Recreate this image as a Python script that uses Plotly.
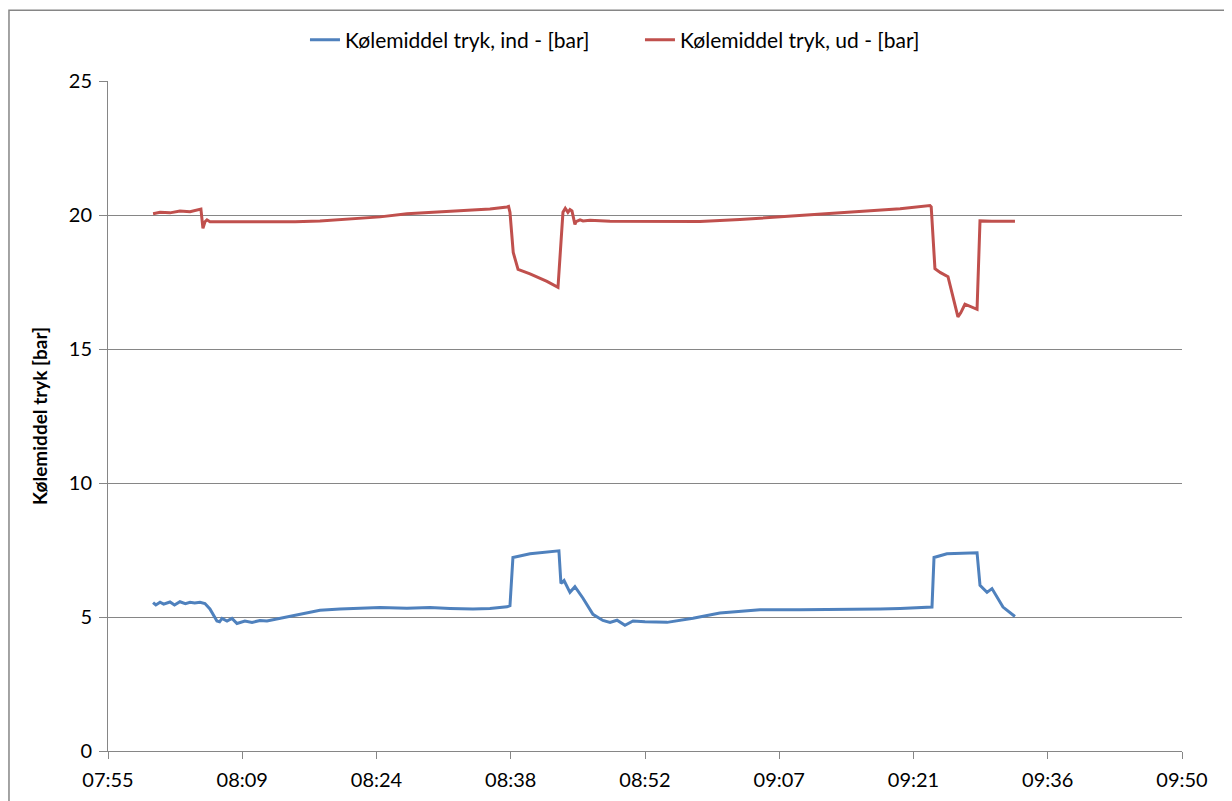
import plotly.graph_objects as go

DAY = "2024-01-01 "

# Tick positions (Excel date axis, major unit 0.01 day) and labels
tick_times = ["07:55:12", "08:09:36", "08:24:00", "08:38:24", "08:52:48",
              "09:07:12", "09:21:36", "09:36:00", "09:50:24"]
tick_labels = ["07:55", "08:09", "08:24", "08:38", "08:52", "09:07", "09:21", "09:36", "09:50"]
y_ticks = [0, 5, 10, 15, 20, 25]

# Kølemiddel tryk, ind - [bar]
ind_times = ["08:00:02", "08:00:20", "08:00:47", "08:01:10", "08:01:51", "08:02:20", "08:02:55",
             "08:03:30", "08:04:00", "08:04:30", "08:05:04", "08:05:36", "08:06:08", "08:06:53",
             "08:07:10", "08:07:26", "08:07:58", "08:08:30", "08:09:02", "08:09:53", "08:10:39",
             "08:11:30", "08:12:15", "08:13:39", "08:15:16", "08:16:33", "08:17:56", "08:20:05",
             "08:21:55", "08:24:23", "08:27:16", "08:29:44", "08:31:53", "08:34:21", "08:36:10",
             "08:38:00", "08:38:19", "08:38:38", "08:40:28", "08:42:17", "08:43:34", "08:43:47",
             "08:44:07", "08:44:45", "08:45:17", "08:46:09", "08:47:13", "08:48:17", "08:49:03",
             "08:49:48", "08:50:39", "08:51:31", "08:52:48", "08:55:10", "08:57:57", "09:00:50",
             "09:02:59", "09:05:08", "09:09:25", "09:14:47", "09:18:01", "09:20:10", "09:23:35",
             "09:23:48", "09:25:11", "09:28:25", "09:28:44", "09:29:29", "09:30:01", "09:31:12",
             "09:32:16", "09:32:29"]
ind_values = [5.54, 5.45, 5.55, 5.48, 5.56, 5.45, 5.57,
              5.50, 5.55, 5.52, 5.55, 5.50, 5.30, 4.85,
              4.82, 4.95, 4.85, 4.95, 4.76, 4.85, 4.80,
              4.87, 4.85, 4.95, 5.05, 5.15, 5.25, 5.30,
              5.33, 5.35, 5.33, 5.35, 5.32, 5.30, 5.32,
              5.38, 5.42, 7.22, 7.36, 7.44, 7.47, 6.25,
              6.36, 5.92, 6.13, 5.70, 5.10, 4.87, 4.80,
              4.88, 4.69, 4.85, 4.82, 4.80, 4.95, 5.15,
              5.22, 5.27, 5.27, 5.28, 5.30, 5.32, 5.37,
              7.22, 7.36, 7.40, 6.18, 5.92, 6.06, 5.37,
              5.05, 5.02]

# Kølemiddel tryk, ud - [bar]
ud_times = ["08:00:02", "08:00:47", "08:01:51", "08:02:55", "08:04:00", "08:05:04", "08:05:10",
            "08:05:23", "08:05:36", "08:05:49", "08:06:08", "08:10:39", "08:15:16", "08:17:56",
            "08:20:05", "08:24:23", "08:27:16", "08:29:44", "08:31:53", "08:34:21", "08:36:10",
            "08:38:00", "08:38:10", "08:38:19", "08:38:40", "08:39:11", "08:40:28", "08:42:17",
            "08:43:28", "08:44:00", "08:44:15", "08:44:32", "08:44:45", "08:44:58", "08:45:17",
            "08:45:24", "08:45:50", "08:46:09", "08:46:54", "08:49:03", "08:52:48", "08:58:42",
            "09:02:59", "09:05:08", "09:09:25", "09:14:47", "09:18:01", "09:20:10", "09:23:22",
            "09:23:30", "09:23:54", "09:24:30", "09:25:18", "09:25:44", "09:26:05", "09:26:22",
            "09:26:40", "09:27:07", "09:28:25", "09:28:44", "09:30:00", "09:32:29"]
ud_values = [20.05, 20.10, 20.08, 20.15, 20.12, 20.20, 20.22,
             19.50, 19.75, 19.82, 19.75, 19.75, 19.75, 19.78,
             19.83, 19.93, 20.05, 20.10, 20.15, 20.20, 20.22,
             20.30, 20.32, 20.10, 18.60, 17.97, 17.80, 17.52,
             17.30, 20.10, 20.25, 20.10, 20.20, 20.15, 19.65,
             19.75, 19.82, 19.78, 19.80, 19.77, 19.76, 19.76,
             19.83, 19.88, 19.98, 20.10, 20.18, 20.23, 20.35,
             20.30, 18.00, 17.85, 17.70, 17.10, 16.60, 16.20,
             16.35, 16.67, 16.48, 19.78, 19.77, 19.77]

GRAY = "#868686"
FONT = "Lato"

fig = go.Figure()
fig.add_trace(go.Scatter(x=[DAY + t for t in ind_times], y=ind_values, mode="lines",
                         name="Kølemiddel tryk, ind - [bar]",
                         line=dict(color="#4F81BD", width=3)))
fig.add_trace(go.Scatter(x=[DAY + t for t in ud_times], y=ud_values, mode="lines",
                         name="Kølemiddel tryk, ud - [bar]",
                         line=dict(color="#C0504D", width=3)))

fig.update_layout(
    width=1232, height=801,
    margin=dict(l=100, r=58, t=71, b=58),
    paper_bgcolor="white", plot_bgcolor="white",
    font=dict(family=FONT, size=20, color="black"),
    showlegend=True,
    legend=dict(orientation="h", x=0.1834, xanchor="left", y=1.061, yanchor="middle",
                font=dict(family=FONT, size=21), itemwidth=30, entrywidth=290,
                bgcolor="rgba(0,0,0,0)"),
    xaxis=dict(type="date", range=[DAY + tick_times[0], DAY + tick_times[-1]],
               tickmode="array", tickvals=[DAY + t for t in tick_times], ticktext=tick_labels,
               showgrid=False, showline=True, linecolor=GRAY, linewidth=1,
               ticks="outside", ticklen=7, tickcolor=GRAY, zeroline=False,
               ticklabelstandoff=4,
               tickfont=dict(family=FONT, size=20)),
    yaxis=dict(range=[0, 25], tickvals=y_ticks, showgrid=True, gridcolor=GRAY, gridwidth=1,
               showline=True, linecolor=GRAY, linewidth=1, ticks="outside", ticklen=8,
               tickcolor=GRAY, zeroline=False, ticklabelstandoff=3,
               tickfont=dict(family=FONT, size=20),
               title=dict(text="<b>Kølemiddel tryk [bar]</b>", font=dict(family=FONT, size=19),
                          standoff=16)),
    shapes=[dict(type="rect", xref="paper", yref="paper",
                 x0=-0.0922, x1=1.0428, y0=-0.12, y1=1.1057,
                 line=dict(color=GRAY, width=1.5), fillcolor="rgba(0,0,0,0)", layer="below")],
)

fig.write_html("out.html")
